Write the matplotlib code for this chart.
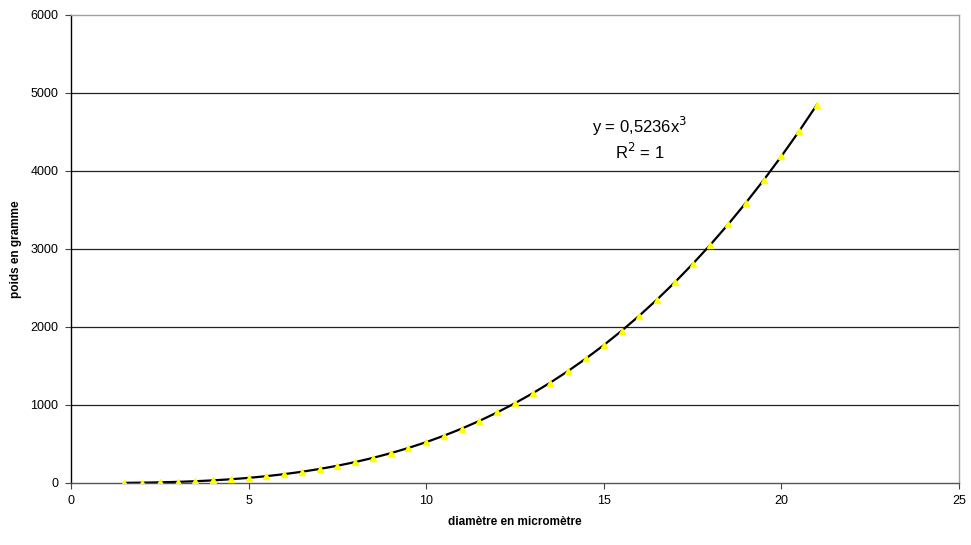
import matplotlib.pyplot as plt

# diametre (micrometre) et poids (gramme)
diametre = [1.5, 2, 2.5, 3, 3.5, 4, 4.5, 5, 5.5, 6, 6.5, 7, 7.5, 8, 8.5, 9, 9.5,
            10, 10.5, 11, 11.5, 12, 12.5, 13, 13.5, 14, 14.5, 15, 15.5, 16, 16.5,
            17, 17.5, 18, 18.5, 19, 19.5, 20, 20.5, 21]
poids = [1.77, 4.19, 8.18, 14.14, 22.45, 33.51, 47.71, 65.45, 87.11, 113.1,
         143.8, 179.6, 220.9, 268.1, 321.6, 381.7, 448.9, 523.6, 606.1, 696.9,
         796.3, 904.8, 1022.6, 1150.3, 1288.2, 1436.8, 1596.3, 1767.1, 1949.8,
         2144.7, 2352.1, 2572.5, 2806.2, 3053.6, 3315.2, 3591.4, 3882.4, 4188.8,
         4510.8, 4849.1]
x_ticks = [0, 5, 10, 15, 20, 25]
y_ticks = [0, 1000, 2000, 3000, 4000, 5000, 6000]

plt.rcParams['font.family'] = ['Liberation Sans', 'DejaVu Sans']

fig = plt.figure(figsize=(9.71, 5.45), dpi=100)
ax = fig.add_axes([0.0731, 0.1138, 0.9145, 0.8587])

# gridlines
for yv in y_ticks[1:-1]:
    ax.axhline(yv, color='#222222', linewidth=0.9, zorder=1)

# courbe de tendance
ax.plot(diametre, poids, color='black', linewidth=1.6, zorder=2)
ax.plot(diametre, poids, linestyle='none', marker='^', markersize=4.5,
        color='#ffff00', zorder=3)

ax.set_xlim(0, 25)
ax.set_ylim(0, 6000)
ax.set_xticks(x_ticks)
ax.set_yticks(y_ticks)
ax.tick_params(labelsize=9, length=4, width=0.8, color='#444444', pad=5)

ax.spines['top'].set_color('#a0a0a0')
ax.spines['right'].set_color('#a0a0a0')
ax.spines['left'].set_color('black')
ax.spines['bottom'].set_color('#555555')
for s in ax.spines.values():
    s.set_linewidth(1.0)

ax.set_xlabel('diamètre en micromètre', fontsize=8.5, fontweight='bold', labelpad=6)
ax.set_ylabel('poids en gramme', fontsize=8.5, fontweight='bold', labelpad=6)

ax.text(16.0, 4570, 'y = 0,5236x$^3$', fontsize=12, ha='center', va='center')
ax.text(16.0, 4250, 'R$^2$ = 1', fontsize=12, ha='center', va='center')

fig.savefig('out.png', dpi=100)
